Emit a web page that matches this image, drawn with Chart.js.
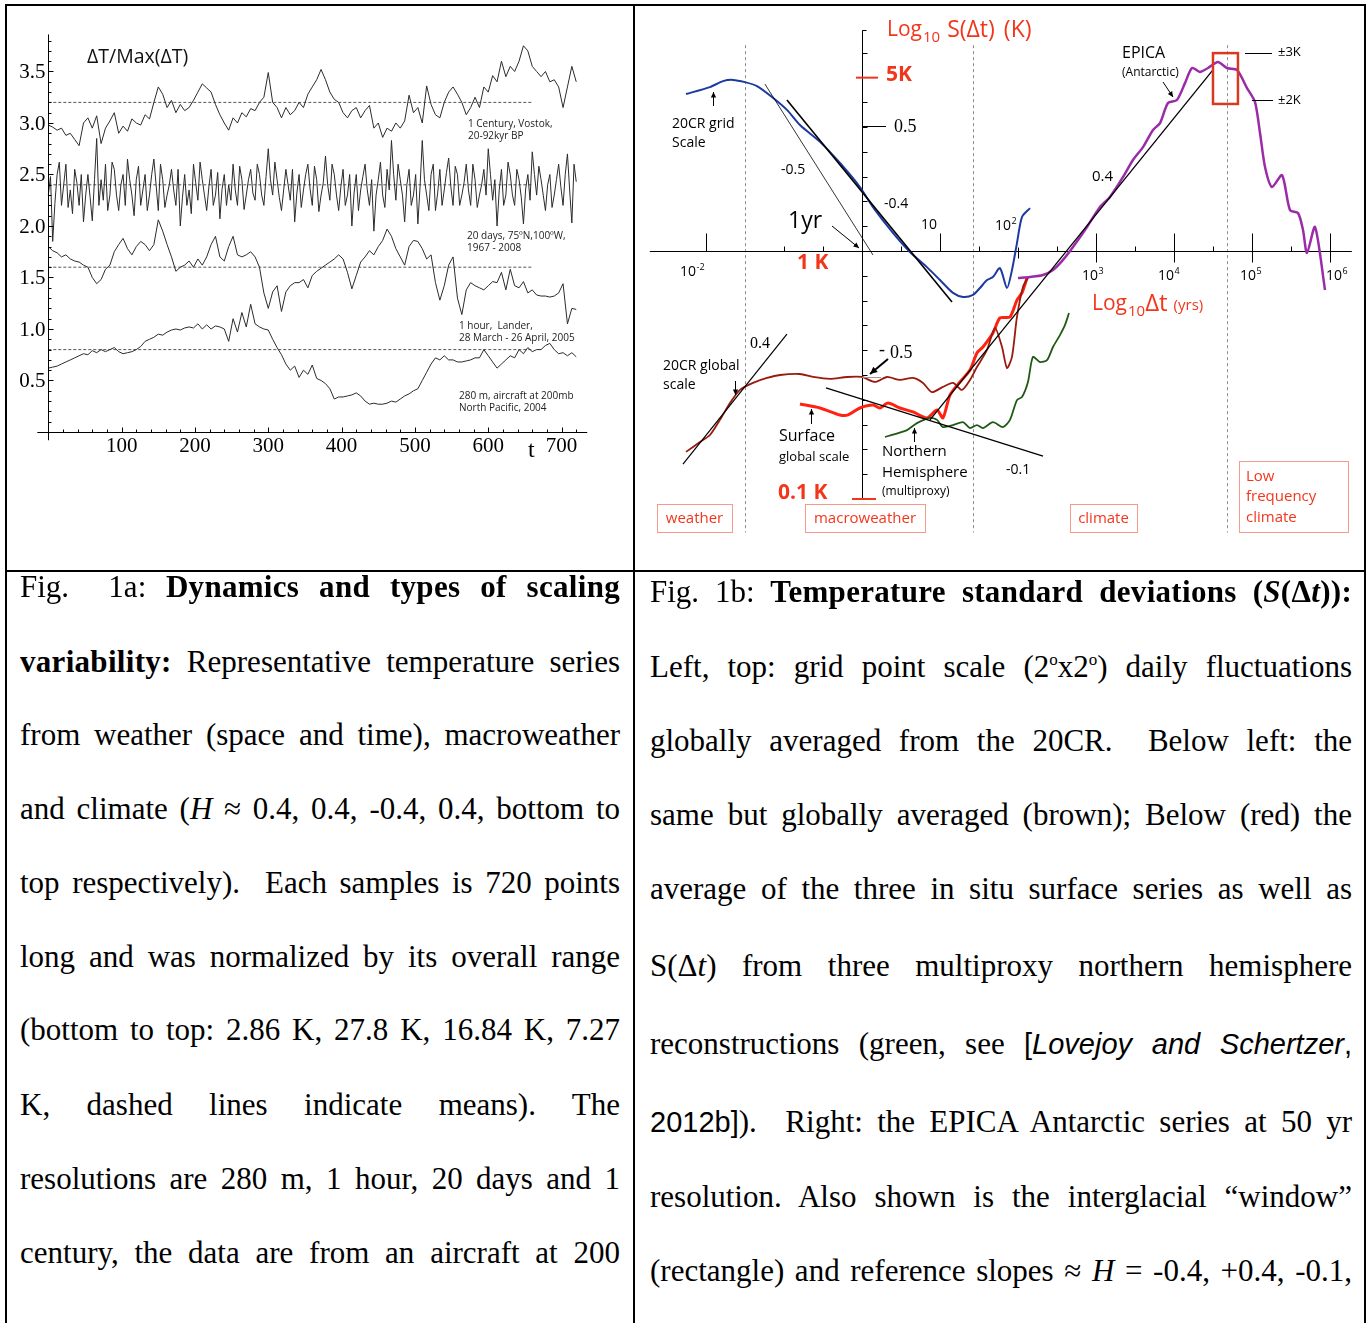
<!DOCTYPE html>
<html>
<head>
<meta charset="utf-8">
<script src="https://cdn.jsdelivr.net/npm/chart.js@4.4.1/dist/chart.umd.min.js"></script>
<style>
  html, body { margin: 0; padding: 0; background: #fff; }
  #page { position: relative; width: 1367px; height: 1323px; overflow: hidden; }
  .rule { position: absolute; background: #000; }
  canvas { position: absolute; }
  .cap { position: absolute; height: 40px; font-family: "Liberation Serif", "Times New Roman", serif;
         font-size: 31px; line-height: 40px; color: #000; text-align: justify; text-align-last: justify; }
  .cap.l { left: 20px; width: 600px; }
  .cap.r { left: 650px; width: 702px; }
  .cap b { letter-spacing: 0.3px; }
  .sans { font-family: "Liberation Sans", Arial, sans-serif; font-size: 29px; }
  sup { font-size: 17px; line-height: 0; vertical-align: 12px; }
</style>
</head>
<body>
<div id="page">
  <div class="rule" style="left:5px;top:4px;width:1361px;height:2px"></div>
  <div class="rule" style="left:5px;top:4px;width:2px;height:1319px"></div>
  <div class="rule" style="left:633px;top:4px;width:2px;height:1319px"></div>
  <div class="rule" style="left:1364px;top:4px;width:2px;height:1319px"></div>
  <div class="rule" style="left:5px;top:570px;width:1361px;height:2px"></div>

  <canvas id="leftChart" width="625" height="563" style="left:8px;top:7px"></canvas>
  <canvas id="rightChart" width="728" height="563" style="left:636px;top:7px"></canvas>

  <div class="cap l" style="top:567px">Fig.&nbsp; 1a: <b>Dynamics and types of scaling</b></div>
  <div class="cap l" style="top:642px"><b>variability:</b> Representative temperature series</div>
  <div class="cap l" style="top:715px">from weather (space and time), macroweather</div>
  <div class="cap l" style="top:789px">and climate (<i>H</i> ≈ 0.4, 0.4, -0.4, 0.4, bottom to</div>
  <div class="cap l" style="top:863px">top respectively).&nbsp; Each samples is 720 points</div>
  <div class="cap l" style="top:937px">long and was normalized by its overall range</div>
  <div class="cap l" style="top:1010px">(bottom to top: 2.86 K, 27.8 K, 16.84 K, 7.27</div>
  <div class="cap l" style="top:1085px">K, dashed lines indicate means). The</div>
  <div class="cap l" style="top:1159px">resolutions are 280 m, 1 hour, 20 days and 1</div>
  <div class="cap l" style="top:1233px">century, the data are from an aircraft at 200</div>

  <div class="cap r" style="top:572px">Fig. 1b: <b>Temperature standard deviations (<i>S</i>(Δ<i>t</i>)):</b></div>
  <div class="cap r" style="top:647px">Left, top: grid point scale (2<sup>o</sup>x2<sup>o</sup>) daily fluctuations</div>
  <div class="cap r" style="top:721px">globally averaged from the 20CR.&nbsp; Below left: the</div>
  <div class="cap r" style="top:795px">same but globally averaged (brown); Below (red) the</div>
  <div class="cap r" style="top:869px">average of the three in situ surface series as well as</div>
  <div class="cap r" style="top:946px">S(Δ<i>t</i>) from three multiproxy northern hemisphere</div>
  <div class="cap r" style="top:1024px">reconstructions (green, see <span class="sans">[<i>Lovejoy and Schertzer</i>,</span></div>
  <div class="cap r" style="top:1102px"><span class="sans">2012b]</span>).&nbsp; Right: the EPICA Antarctic series at 50 yr</div>
  <div class="cap r" style="top:1177px">resolution. Also shown is the interglacial “window”</div>
  <div class="cap r" style="top:1251px">(rectangle) and reference slopes ≈ <i>H</i> = -0.4, +0.4, -0.1,</div>
</div>

<script>
// ---- Fig 1a: normalized series (720 points each), sampled every T_STEP points
const T_STEP = 6;
const BAFFIN_STEP = 3;
const vostokCentury = [2.98,2.96,2.93,2.95,2.88,2.9,2.84,2.78,3.0,3.05,
  2.95,3.07,2.8,2.95,3.02,3.1,2.9,2.97,2.92,3.04,
  3.0,2.98,3.08,3.04,3.2,3.35,3.28,3.15,3.22,3.1,
  3.18,3.12,3.15,3.22,3.3,3.38,3.34,3.3,3.18,3.08,
  3.0,2.93,3.05,3.0,3.1,3.06,3.14,3.12,3.2,3.25,
  3.49,3.2,3.15,3.05,3.15,3.08,3.12,3.2,3.15,3.28,
  3.35,3.42,3.52,3.42,3.3,3.23,3.2,3.1,3.05,3.12,
  3.15,3.05,3.12,3.17,2.95,3.0,2.86,2.95,2.92,3.0,
  2.95,3.02,3.27,3.1,3.15,3.0,3.36,3.18,3.08,3.05,
  3.2,3.3,3.35,3.28,3.2,3.08,3.15,3.25,3.15,3.35,
  3.3,3.46,3.4,3.6,3.45,3.55,3.5,3.6,3.75,3.7,
  3.55,3.5,3.45,3.5,3.4,3.42,3.35,3.15,3.35,3.55,
  3.4];
const baffin20Day = [2.3,2.48,1.85,2.22,2.5,2.62,2.2,2.4,2.6,2.18,
  2.35,2.12,2.55,2.42,2.2,2.5,2.04,2.3,2.5,2.28,
  2.05,2.45,2.85,2.2,2.45,2.25,2.6,2.15,2.3,2.62,
  2.55,2.3,2.15,2.4,2.5,2.2,2.65,2.45,2.3,2.1,
  2.45,2.58,2.2,2.35,2.5,2.15,2.3,2.5,2.65,2.4,
  2.15,2.6,2.45,2.18,2.3,2.4,2.55,2.35,2.2,2.55,
  2.0,2.28,2.5,2.2,2.35,2.12,2.6,2.42,2.25,2.62,
  2.45,2.3,2.15,2.38,2.55,2.2,2.3,2.52,2.07,2.36,
  2.5,2.2,2.4,2.25,2.6,2.35,2.2,2.58,2.45,2.16,
  2.3,2.45,2.55,2.32,2.25,2.6,2.5,2.3,2.2,2.48,
  2.75,2.45,2.3,2.62,2.45,2.28,2.15,2.35,2.55,2.4,
  2.25,2.55,2.04,2.32,2.5,2.18,2.35,2.5,2.6,2.36,
  2.2,2.58,2.45,2.14,2.3,2.42,2.68,2.4,2.25,2.6,
  2.5,2.3,2.15,2.38,2.55,2.2,2.3,2.5,2.0,2.32,
  2.5,2.15,2.35,2.48,2.6,2.35,2.2,2.45,1.95,2.3,
  2.45,2.62,2.3,2.18,2.55,2.35,2.83,2.5,2.25,2.6,
  2.45,2.3,2.04,2.4,2.55,2.2,2.3,2.5,2.02,2.38,
  2.83,2.45,2.3,2.15,2.5,2.6,2.15,2.32,2.55,2.2,
  2.35,2.52,2.66,2.38,2.2,2.58,2.5,2.2,2.3,2.42,
  2.6,2.35,2.2,2.6,2.45,2.18,2.3,2.4,2.55,2.3,
  2.75,2.5,2.25,2.45,2.0,2.35,2.55,2.2,2.3,2.62,
  2.5,2.3,2.2,2.55,2.45,2.28,2.02,2.36,2.5,2.25,
  2.72,2.5,2.3,2.58,2.45,2.3,2.15,2.4,2.5,2.18,
  2.3,2.45,2.6,2.38,2.2,2.5,2.7,2.35,2.03,2.6,
  2.43];
const lander1Hour = [1.8,1.76,1.74,1.7,1.72,1.68,1.66,1.65,1.62,1.6,
  1.5,1.44,1.48,1.58,1.62,1.75,1.82,1.88,1.78,1.72,
  1.8,1.85,1.82,1.76,1.82,2.06,1.95,1.82,1.7,1.56,
  1.6,1.62,1.66,1.6,1.68,1.62,1.7,1.82,1.9,1.7,
  1.66,1.8,1.9,1.72,1.7,1.72,1.75,1.7,1.6,1.35,
  1.2,1.36,1.42,1.17,1.36,1.42,1.45,1.45,1.48,1.4,
  1.52,1.56,1.59,1.62,1.65,1.68,1.72,1.68,1.55,1.39,
  1.52,1.65,1.7,1.76,1.72,1.8,1.86,1.97,1.9,1.78,
  1.7,1.62,1.8,1.86,1.85,1.78,1.68,1.72,1.45,1.28,
  1.42,1.62,1.7,1.3,1.14,1.38,1.45,1.42,1.4,1.38,
  1.42,1.46,1.45,1.55,1.38,1.58,1.42,1.4,1.46,1.35,
  1.38,1.33,1.32,1.32,1.31,1.32,1.35,1.44,1.05,1.2,
  1.19];
const aircraft280m = [0.62,0.63,0.64,0.66,0.68,0.7,0.72,0.74,0.76,0.75,
  0.79,0.77,0.8,0.78,0.8,0.82,0.78,0.76,0.77,0.78,
  0.8,0.83,0.88,0.9,0.92,0.95,0.94,0.97,0.99,1.0,
  0.99,1.01,1.02,1.01,1.05,1.0,1.04,1.0,1.03,1.02,
  1.0,0.88,1.1,0.97,1.16,1.02,1.24,1.05,1.02,1.0,
  0.99,0.9,0.82,0.75,0.66,0.6,0.64,0.53,0.6,0.56,
  0.65,0.52,0.5,0.47,0.42,0.32,0.34,0.34,0.35,0.36,
  0.38,0.35,0.3,0.27,0.28,0.27,0.27,0.28,0.3,0.29,
  0.32,0.35,0.37,0.4,0.42,0.5,0.58,0.66,0.72,0.7,
  0.74,0.7,0.7,0.68,0.68,0.69,0.7,0.72,0.72,0.8,
  0.74,0.68,0.62,0.66,0.7,0.74,0.72,0.8,0.76,0.82,
  0.78,0.8,0.8,0.84,0.86,0.8,0.76,0.77,0.74,0.77,
  0.73];
const seriesMeans = [3.2, 2.4, 1.6, 0.8];
const MEAN_END = 660;
const leftXTicks = [100, 200, 300, 400, 500, 600, 700];
const leftYTicks = [0.5, 1.0, 1.5, 2.0, 2.5, 3.0, 3.5];

// ---- Fig 1b: log10 dt (yrs) and log10 S (K)
const gridLogT = [-2.256,-1.949,-1.782,-1.654,-1.5,-1.346,-1.154,-0.962,-0.795,-0.538,-0.282,-0.026,0.141,0.397,0.615,0.833,1.0,1.167,1.295,1.423,1.513,1.603,1.679,1.769,1.859,1.923,1.987,2.051,2.154];
const gridLogS = [0.633,0.661,0.685,0.690,0.681,0.665,0.621,0.569,0.508,0.440,0.355,0.258,0.177,0.073,-0.004,-0.065,-0.117,-0.169,-0.185,-0.177,-0.149,-0.117,-0.105,-0.069,-0.149,-0.077,0.032,0.137,0.173];
const epicaLogT = [2.0,2.154,2.321,2.449,2.577,2.705,2.885,3.051,3.179,3.346,3.474,3.603,3.731,3.821,3.923,4.038,4.141,4.231,4.333,4.436,4.564,4.679,4.808,4.936,5.038,5.103,5.167,5.256,5.385,5.487,5.590,5.654,5.705,5.808,5.936];
const epicaLogS = [-0.109,-0.105,-0.097,-0.077,-0.036,0.016,0.097,0.177,0.218,0.298,0.367,0.419,0.488,0.516,0.597,0.609,0.677,0.738,0.722,0.738,0.762,0.738,0.730,0.657,0.601,0.476,0.339,0.258,0.306,0.165,0.153,0.085,-0.008,0.097,-0.157];
const globalLogT = [-2.256,-2.077,-1.949,-1.821,-1.692,-1.564,-1.397,-1.218,-1.051,-0.795,-0.628,-0.410,-0.192,0.0,0.167,0.321,0.487,0.654,0.782,0.897,1.038,1.167,1.282,1.385,1.474,1.603,1.705,1.795,1.859,1.923,1.987,2.064,2.128];
const globalLogS = [-0.810,-0.770,-0.742,-0.681,-0.613,-0.560,-0.532,-0.512,-0.500,-0.496,-0.508,-0.516,-0.508,-0.508,-0.528,-0.508,-0.520,-0.512,-0.532,-0.569,-0.548,-0.532,-0.560,-0.520,-0.468,-0.399,-0.310,-0.387,-0.472,-0.427,-0.266,-0.145,-0.109];
const surfaceLogT = [-0.795,-0.538,-0.282,-0.179,-0.026,0.141,0.231,0.333,0.487,0.654,0.833,0.962,1.038,1.128,1.256,1.385,1.474,1.551,1.679,1.769,1.897,1.987,2.051,2.115];
const surfaceLogS = [-0.617,-0.633,-0.661,-0.661,-0.633,-0.621,-0.633,-0.613,-0.633,-0.649,-0.673,-0.641,-0.673,-0.581,-0.528,-0.480,-0.411,-0.387,-0.331,-0.270,-0.266,-0.198,-0.169,-0.109];
const nhLogT = [0.295,0.577,0.705,0.872,0.962,1.038,1.167,1.295,1.385,1.474,1.551,1.679,1.808,1.897,1.987,2.051,2.128,2.192,2.282,2.372,2.449,2.538,2.603,2.654];
const nhLogS = [-0.750,-0.722,-0.694,-0.673,-0.681,-0.710,-0.702,-0.690,-0.714,-0.702,-0.714,-0.690,-0.710,-0.681,-0.601,-0.589,-0.528,-0.427,-0.448,-0.440,-0.387,-0.339,-0.298,-0.250];
// reference slopes, [start, end]
const slopeLogT = { m05: [-1.244, 0.141], m04: [-0.962, 1.154], p04w: [-2.295, -0.962], m01: [-0.462, 2.321], p04c: [0.872, 4.5] };
const slopeLogS = { m05: [0.673, -0.016], m04: [0.609, -0.206], p04w: [-0.859, -0.335], m01: [-0.552, -0.827], p04c: [-0.681, 0.730] };
const windowLogT = [4.5, 4.82];
const windowLogS = [0.593, 0.798];
const regionEdges = [-1.5, 1.423, 4.679];
const majorDecades = [-2, 1, 2, 3, 4, 5, 6];
const halfDecades = [-1, -0.5, 0.5, 1.5, 2.5, 3.5, 4.5, 5.5];

const RED = '#f2361c';
const SANS = '"Open Sans", "DejaVu Sans", sans-serif';
const SERIF = '"Liberation Serif", "Times New Roman", serif';

function seg(ctx, x1, y1, x2, y2) { ctx.beginPath(); ctx.moveTo(x1, y1); ctx.lineTo(x2, y2); ctx.stroke(); }
function crisp(v) { return Math.round(v) + 0.5; }
function txt(ctx, s, x, y, font, color, align) {
  ctx.font = font; ctx.fillStyle = color || '#000';
  ctx.textAlign = align || 'left'; ctx.textBaseline = 'middle';
  ctx.fillText(s, x, y);
  return ctx.measureText(s).width;
}
function arrow(ctx, x1, y1, x2, y2, w, h) {
  ctx.lineWidth = w; seg(ctx, x1, y1, x2, y2);
  const a = Math.atan2(y2 - y1, x2 - x1);
  ctx.beginPath(); ctx.moveTo(x2, y2);
  ctx.lineTo(x2 - h * Math.cos(a - 0.45), y2 - h * Math.sin(a - 0.45));
  ctx.lineTo(x2 - h * Math.cos(a + 0.45), y2 - h * Math.sin(a + 0.45));
  ctx.closePath(); ctx.fill();
}
// 10 with a raised exponent
function pow10(ctx, exp, x, y) {
  const w = txt(ctx, '10', x, y, '14px ' + SANS, '#000');
  if (exp !== '') txt(ctx, exp, x + w + 0.5, y - 5, '9px ' + SANS, '#000');
}

const toXY = (arr, step) => arr.map((v, i) => ({ x: i * step, y: v }));
const zipXY = (xs, ys) => xs.map((v, i) => ({ x: v, y: ys[i] }));

// ---------- left chart ----------
const leftDecor = {
  id: 'leftDecor',
  afterDatasetsDraw(chart) {
    const { ctx, scales: { x, y } } = chart;
    const X = v => x.getPixelForValue(v), Y = v => y.getPixelForValue(v);
    ctx.save();
    ctx.strokeStyle = '#000'; ctx.fillStyle = '#000'; ctx.lineWidth = 1;
    const x0 = crisp(X(0)), y0 = crisp(Y(0));
    seg(ctx, X(-15), y0, X(735), y0);
    seg(ctx, x0, Y(-0.08), x0, Y(3.86));
    for (let t = 20; t <= 720; t += 20) { const px = crisp(X(t)); seg(ctx, px, y0, px, y0 - (t % 100 === 0 ? 5 : 3)); }
    for (let k = 1; k <= 38; k++) { const py = crisp(Y(k / 10)); seg(ctx, x0, py, x0 + (k % 5 === 0 ? 5 : 3), py); }
    leftXTicks.forEach(t => txt(ctx, String(t), X(t), y0 + 14, '21px ' + SERIF, '#000', 'center'));
    leftYTicks.forEach(v => txt(ctx, v.toFixed(1), x0 - 3, Y(v) + 1, '21px ' + SERIF, '#000', 'right'));

    ctx.translate(-8, -7);   // page coordinates for annotations
    txt(ctx, 't', 528, 451, '24px ' + SERIF);
    txt(ctx, 'ΔT/Max(ΔT)', 87, 57, '19.5px ' + SANS, '#111');
    const lab = '10px ' + SANS, lc = '#222';
    txt(ctx, '1 Century, Vostok,', 468, 124, lab, lc);
    txt(ctx, '20-92kyr BP', 468, 136, lab, lc);
    txt(ctx, '20 days, 75ºN,100ºW,', 467, 236, lab, lc);
    txt(ctx, '1967 - 2008', 467, 248, lab, lc);
    txt(ctx, '1 hour,  Lander,', 459, 326, lab, lc);
    txt(ctx, '28 March - 26 April, 2005', 459, 338, lab, lc);
    txt(ctx, '280 m, aircraft at 200mb', 459, 396, lab, lc);
    txt(ctx, 'North Pacific, 2004', 459, 408, lab, lc);
    ctx.restore();
  }
};

const leftDatasets = [
  [vostokCentury, T_STEP], [baffin20Day, BAFFIN_STEP], [lander1Hour, T_STEP], [aircraft280m, T_STEP]
].map(([arr, step]) => ({
  data: toXY(arr, step), borderColor: '#2b2b2b', borderWidth: 1, pointRadius: 0, tension: 0
}));
seriesMeans.forEach(m => leftDatasets.push({
  data: [{ x: 0, y: m }, { x: MEAN_END, y: m }],
  borderColor: '#555', borderWidth: 1, borderDash: [3, 2], pointRadius: 0
}));

new Chart(document.getElementById('leftChart'), {
  type: 'line',
  data: { datasets: leftDatasets },
  options: {
    responsive: false, animation: false, devicePixelRatio: 1,
    layout: { padding: 0 },
    plugins: { legend: { display: false }, tooltip: { enabled: false } },
    scales: {
      x: { type: 'linear', min: -54.96, max: 797.4, display: false },
      y: { type: 'linear', min: -1.3398, max: 4.1262, display: false }
    }
  },
  plugins: [leftDecor]
});

// ---------- right chart ----------
const rightDecor = {
  id: 'rightDecor',
  beforeDatasetsDraw(chart) {
    const { ctx, scales: { x, y } } = chart;
    const X = v => x.getPixelForValue(v), Y = v => y.getPixelForValue(v);
    ctx.save();
    ctx.strokeStyle = '#8c8c8c'; ctx.lineWidth = 1; ctx.setLineDash([3, 3]);
    regionEdges.forEach(e => { const px = crisp(X(e)); seg(ctx, px, Y(0.83), px, Y(-1.135)); });
    ctx.setLineDash([]);
    ctx.strokeStyle = '#000';
    const x0 = crisp(X(0)), y0 = crisp(Y(0));
    seg(ctx, X(-2.72), y0, X(6.28), y0);
    seg(ctx, x0, Y(0.89), x0, Y(-1.0));
    seg(ctx, x0, crisp(Y(0.89)), x0 + 4, crisp(Y(0.89)));
    for (let k = -9; k <= 8; k++) {
      if (k === 0) continue;
      const py = crisp(Y(k / 10)); seg(ctx, x0, py, x0 + 5, py);
    }
    majorDecades.forEach(d => {
      const px = crisp(X(d));
      if (d === 2) seg(ctx, px, y0 - 4, px, y0 + 7);
      else seg(ctx, px, y0 - 18, px, y0 + (d >= 3 ? 11 : 0));
    });
    halfDecades.forEach(d => { const px = crisp(X(d)); seg(ctx, px, y0 - 5, px, y0); });
    // red K marks on the S axis
    ctx.strokeStyle = RED; ctx.lineWidth = 2;
    seg(ctx, X(0) - 6, Y(Math.log10(5)), X(0) + 16, Y(Math.log10(5)));
    seg(ctx, X(0) - 10, Y(-1), X(0) + 14, Y(-1));
    ctx.restore();
  },
  afterDatasetsDraw(chart) {
    const { ctx, scales: { x, y } } = chart;
    const X = v => x.getPixelForValue(v), Y = v => y.getPixelForValue(v);
    ctx.save();
    // interglacial window
    ctx.strokeStyle = '#d93a1e'; ctx.lineWidth = 2.5;
    ctx.strokeRect(X(windowLogT[0]), Y(windowLogS[1]), X(windowLogT[1]) - X(windowLogT[0]), Y(windowLogS[0]) - Y(windowLogS[1]));

    ctx.translate(-636, -7);   // page coordinates for annotations
    ctx.fillStyle = '#000'; ctx.strokeStyle = '#000';
    // axis titles
    let w = txt(ctx, 'Log', 887, 30, '21px ' + SANS, RED);
    w += txt(ctx, '10', 887 + w + 1, 38, '15px ' + SANS, RED) + 8;
    w += txt(ctx, 'S(Δt)', 887 + w, 30, '23px ' + SANS, RED) + 9;
    txt(ctx, '(K)', 887 + w, 30, '23px ' + SANS, RED);
    w = txt(ctx, 'Log', 1092, 304, '21px ' + SANS, RED);
    w += txt(ctx, '10', 1092 + w + 1, 312, '15px ' + SANS, RED) + 1;
    w += txt(ctx, 'Δt', 1092 + w, 304, '24px ' + SANS, RED);
    txt(ctx, '(yrs)', 1092 + w + 6, 306, '15px ' + SANS, RED);
    txt(ctx, '5K', 886, 75, 'bold 21px ' + SANS, RED);
    txt(ctx, '1 K', 797, 263, 'bold 21px ' + SANS, RED);
    txt(ctx, '0.1 K', 778, 493, 'bold 21px ' + SANS, RED);
    // S axis label 0.5
    ctx.lineWidth = 1; seg(ctx, 862, 126.5, 886, 126.5);
    txt(ctx, '0.5', 894, 127, '18px ' + SERIF);
    // dt tick labels
    pow10(ctx, '-2', 680, 272);
    pow10(ctx, '', 921, 225);
    pow10(ctx, '2', 995, 226);
    pow10(ctx, '3', 1082, 276);
    pow10(ctx, '4', 1158, 276);
    pow10(ctx, '5', 1240, 276);
    pow10(ctx, '6', 1326, 276);
    // curve annotations
    txt(ctx, '20CR grid', 672, 124, '14px ' + SANS);
    txt(ctx, 'Scale', 672, 143, '14px ' + SANS);
    arrow(ctx, 713.5, 106, 713.5, 92, 1, 6);
    txt(ctx, '-0.5', 781, 170, '14px ' + SANS);
    txt(ctx, '-0.4', 884, 204, '14px ' + SANS);
    txt(ctx, '1yr', 788, 221, '23px ' + SANS);
    arrow(ctx, 832, 226, 859, 248, 1, 6);
    txt(ctx, 'EPICA', 1122, 53, '16px ' + SANS);
    txt(ctx, '(Antarctic)', 1122, 73, '12px ' + SANS);
    arrow(ctx, 1163, 82, 1173, 97, 1, 6);
    txt(ctx, '0.4', 1092, 177, '15px ' + SANS);
    ctx.lineWidth = 1;
    seg(ctx, 1245, 53.5, 1272, 53.5); txt(ctx, '±3K', 1278, 52, '13px ' + SANS);
    seg(ctx, 1252, 100.5, 1273, 100.5); txt(ctx, '±2K', 1278, 100, '13px ' + SANS);
    txt(ctx, '0.4', 750, 344, '16px ' + SERIF);
    txt(ctx, '20CR global', 663, 366, '14px ' + SANS);
    txt(ctx, 'scale', 663, 385, '14px ' + SANS);
    arrow(ctx, 735.5, 381, 735.5, 395, 1, 6);
    txt(ctx, '-', 879, 350, '18px ' + SERIF);
    txt(ctx, '0.5', 890, 353, '18px ' + SERIF);
    ctx.strokeStyle = '#999'; ctx.lineWidth = 1; seg(ctx, 862, 377.5, 881, 377.5);
    ctx.strokeStyle = '#000';
    arrow(ctx, 888, 359, 870, 374, 2, 8);
    txt(ctx, 'Surface', 779, 436, '16px ' + SANS);
    txt(ctx, 'global scale', 779, 457, '13px ' + SANS);
    arrow(ctx, 811.5, 424, 811.5, 409, 1, 6);
    txt(ctx, 'Northern', 882, 452, '15px ' + SANS);
    txt(ctx, 'Hemisphere', 882, 473, '15px ' + SANS);
    txt(ctx, '(multiproxy)', 882, 492, '12px ' + SANS);
    arrow(ctx, 914.5, 442, 914.5, 428, 1, 6);
    txt(ctx, '-0.1', 1006, 470, '14px ' + SANS);
    // regime boxes
    ctx.strokeStyle = '#f79a8c'; ctx.lineWidth = 1;
    [[657, 504, 75, 28, 'weather'], [805, 504, 120, 28, 'macroweather'], [1070, 504, 67, 28, 'climate']].forEach(b => {
      ctx.strokeRect(b[0] + 0.5, b[1] + 0.5, b[2], b[3]);
      txt(ctx, b[4], b[0] + b[2] / 2, b[1] + 15, '15px ' + SANS, RED, 'center');
    });
    ctx.strokeRect(1239.5, 461.5, 109, 71);
    txt(ctx, 'Low', 1246, 477, '15px ' + SANS, RED);
    txt(ctx, 'frequency', 1246, 497, '15px ' + SANS, RED);
    txt(ctx, 'climate', 1246, 518, '15px ' + SANS, RED);
    ctx.restore();
  }
};

const curve = (xs, ys, color, width) => ({
  data: zipXY(xs, ys), borderColor: color, borderWidth: width, pointRadius: 0, tension: 0.25
});
const slope = (key, width) => ({
  data: zipXY(slopeLogT[key], slopeLogS[key]), borderColor: '#000', borderWidth: width, pointRadius: 0
});

new Chart(document.getElementById('rightChart'), {
  type: 'line',
  data: {
    datasets: [
      slope('m05', 0.8), slope('m04', 1.6), slope('p04w', 1.2), slope('m01', 1.2), slope('p04c', 1.3),
      curve(gridLogT, gridLogS, '#1c3aa0', 2),
      curve(epicaLogT, epicaLogS, '#9a2ca8', 2.5),
      curve(globalLogT, globalLogS, '#9a1a0e', 1.8),
      curve(nhLogT, nhLogS, '#1f5a14', 1.8),
      curve(surfaceLogT, surfaceLogS, '#ff2211', 3)
    ]
  },
  options: {
    responsive: false, animation: false, devicePixelRatio: 1,
    layout: { padding: 0 },
    plugins: { legend: { display: false }, tooltip: { enabled: false } },
    scales: {
      x: { type: 'linear', min: -2.897, max: 6.436, display: false },
      y: { type: 'linear', min: -1.2863, max: 0.9839, display: false }
    }
  },
  plugins: [rightDecor]
});
</script>
</body>
</html>
